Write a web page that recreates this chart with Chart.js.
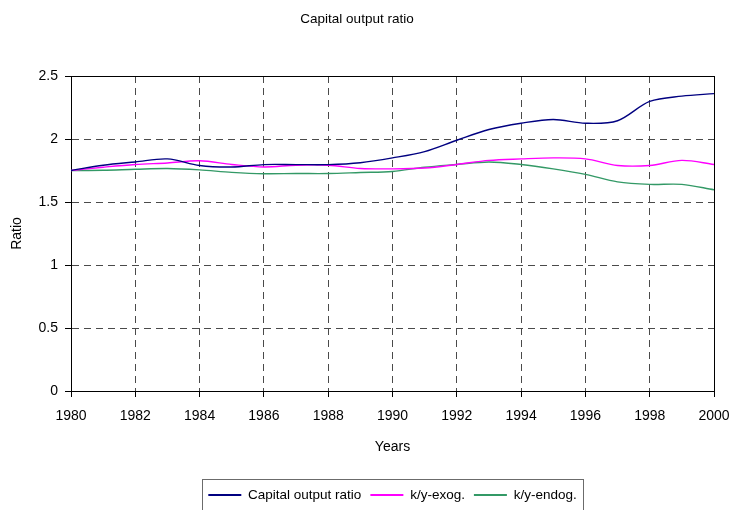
<!DOCTYPE html>
<html>
<head>
<meta charset="utf-8">
<script src="https://cdn.jsdelivr.net/npm/chart.js@4.4.1/dist/chart.umd.min.js"></script>
<style>
html,body{margin:0;padding:0;background:#fff;}
#wrap{width:732px;height:510px;}
</style>
</head>
<body>
<div id="wrap"><canvas id="c" width="732" height="510"></canvas></div>
<script>
const chartTitle = 'Capital output ratio';
const xAxisTitle = 'Years';
const yAxisTitle = 'Ratio';
const years = [1980,1981,1982,1983,1984,1985,1986,1987,1988,1989,1990,1991,1992,1993,1994,1995,1996,1997,1998,1999,2000];
const capitalOutputRatio = [1.75,1.792,1.818,1.842,1.79,1.778,1.797,1.797,1.797,1.812,1.85,1.90,1.99,2.075,2.125,2.155,2.125,2.145,2.298,2.34,2.36];
const kyExog = [1.75,1.776,1.798,1.81,1.827,1.798,1.778,1.792,1.792,1.766,1.763,1.77,1.798,1.83,1.842,1.85,1.842,1.79,1.79,1.83,1.798];
const kyEndog = [1.75,1.752,1.76,1.766,1.755,1.735,1.724,1.726,1.726,1.734,1.742,1.776,1.798,1.818,1.798,1.763,1.719,1.66,1.64,1.64,1.597];
const seriesNames = ['Capital output ratio','k/y-exog.','k/y-endog.'];
const seriesColors = ['#000080','#FF00FF','#339966'];
const yMin = 0, yMax = 2.5, yStep = 0.5;
const xMin = 1980, xMax = 2000, xStep = 2;

const FONT = "'Liberation Sans', Arial, sans-serif";

function toPoints(vals){ return years.map((y,i)=>({x:y,y:vals[i]})); }

const frame = {
  id:'frame',
  beforeDatasetsDraw(chart){
    const a = chart.chartArea, ctx = chart.ctx;
    ctx.save();
    ctx.strokeStyle = '#000';
    ctx.lineWidth = 1;
    ctx.strokeRect(Math.round(a.left)+0.5, Math.round(a.top)+0.5, Math.round(a.right-a.left), Math.round(a.bottom-a.top));
    ctx.restore();
  },
  afterDraw(chart){
    const lg = chart.legend;
    if(!lg || !lg.legendHitBoxes || !lg.legendHitBoxes.length) return;
    const hb = lg.legendHitBoxes;
    const l = hb[0].left - 6;
    const last = hb[hb.length-1];
    const r = last.left + last.width + 7;
    const ctx = chart.ctx;
    ctx.save();
    ctx.strokeStyle = '#6b6b6b';
    ctx.lineWidth = 1;
    ctx.strokeRect(Math.round(l)+0.5, Math.round(lg.top)+0.5, Math.round(r-l), 60);
    ctx.restore();
  }
};

new Chart(document.getElementById('c'), {
  type:'line',
  data:{
    datasets:[
      {label:seriesNames[0], data:toPoints(capitalOutputRatio), borderColor:seriesColors[0], backgroundColor:seriesColors[0]},
      {label:seriesNames[1], data:toPoints(kyExog), borderColor:seriesColors[1], backgroundColor:seriesColors[1]},
      {label:seriesNames[2], data:toPoints(kyEndog), borderColor:seriesColors[2], backgroundColor:seriesColors[2]}
    ]
  },
  options:{
    responsive:false,
    animation:false,
    devicePixelRatio:1,
    elements:{
      line:{borderWidth:1.4, tension:0.33, fill:false},
      point:{radius:0, hoverRadius:0}
    },
    layout:{padding:{left:0,right:18,top:0,bottom:-1.75}},
    plugins:{
      tooltip:{enabled:false},
      title:{
        display:true, text:chartTitle, color:'#000',
        font:{family:FONT,size:13.5,weight:'normal'},
        padding:{top:11,bottom:48.8}
      },
      legend:{
        position:'bottom', fullSize:false,
        labels:{
          color:'#000', font:{family:FONT,size:13.5}, boxWidth:33, boxHeight:2, padding:9,
          generateLabels(chart){
            return chart.data.datasets.map((ds,i)=>({text:ds.label, fillStyle:ds.borderColor, strokeStyle:ds.borderColor, lineWidth:0, hidden:false, datasetIndex:i, fontColor:'#000'}));
          }
        }
      }
    },
    scales:{
      x:{
        type:'linear', min:xMin, max:xMax,
        ticks:{stepSize:xStep, color:'#000', font:{family:FONT,size:14}, padding:11, maxRotation:0, callback:(v)=>String(v)},
        grid:{color:'#4a4a4a', lineWidth:1, drawTicks:true, tickLength:6, tickColor:'#000', tickWidth:1},
        border:{display:true, color:'#000', width:1, dash:[7,5]},
        title:{display:true, text:xAxisTitle, color:'#000', font:{family:FONT,size:14}, padding:{top:4,bottom:24}},
        afterFit(s){ s.height = 88.25; s.paddingLeft = 0; s.paddingRight = 0; }
      },
      y:{
        min:yMin, max:yMax,
        ticks:{stepSize:yStep, color:'#000', font:{family:FONT,size:14}, padding:7, callback:(v)=>String(v)},
        grid:{color:'#4a4a4a', lineWidth:1, drawTicks:true, tickLength:6, tickColor:'#000', tickWidth:1},
        border:{display:true, color:'#000', width:1, dash:[7,5]},
        title:{display:true, text:yAxisTitle, color:'#000', font:{family:FONT,size:14}, padding:{top:8.6,bottom:4}},
        afterFit(s){ s.width = 71; }
      }
    }
  },
  plugins:[frame]
});
</script>
</body>
</html>
